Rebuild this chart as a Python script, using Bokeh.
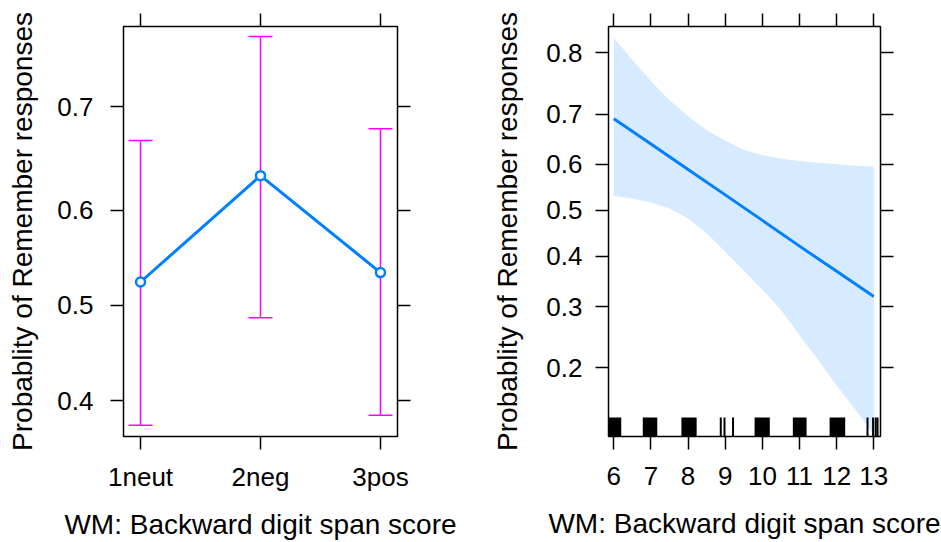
import numpy as np
from bokeh.plotting import figure
from bokeh.models import (Range1d, FixedTicker, LinearAxis, CustomJSTickFormatter,
                          Whisker, TeeHead, ColumnDataSource)
from bokeh.layouts import row
from bokeh.embed import file_html
from bokeh.resources import INLINE

# ---------------- data ----------------
# left panel: condition effect
conditions = ["1neut", "2neg", "3pos"]
cond_fit = [0.525, 0.635, 0.535]
cond_lower = [0.375, 0.487, 0.385]
cond_upper = [0.669, 0.759, 0.680]
left_yticks = [0.4, 0.5, 0.6, 0.7]

# right panel: WM backward digit span effect
wm_span = [6, 7, 8, 9, 10, 11, 12, 13]
wm_fit = [0.691, 0.642, 0.589, 0.534, 0.478, 0.422, 0.369, 0.319]
band_x = [6, 6.5, 7, 7.5, 8, 8.5, 9, 9.5, 10, 10.5, 11, 11.5, 12, 12.5, 13]
band_lower = [0.531, 0.526, 0.517, 0.504, 0.482, 0.450, 0.410, 0.370, 0.332,
              0.294, 0.250, 0.212, 0.176, 0.148, 0.122]
band_upper = [0.820, 0.790, 0.757, 0.725, 0.696, 0.669, 0.649, 0.630, 0.619,
              0.612, 0.607, 0.603, 0.600, 0.597, 0.595]
right_yticks = [0.2, 0.3, 0.4, 0.5, 0.6, 0.7, 0.8]

# rug of observed (jittered) scores
rug_block_lo = [5.84, 6.78, 7.82, 9.79, 10.82, 11.81]
rug_block_hi = [6.20, 7.17, 8.23, 10.20, 11.19, 12.23]
rug_single = [8.88, 8.98, 9.21, 12.83, 12.98, 13.05, 13.10]

x_title = "WM: Backward digit span score"
y_title = "Probablity of Remember responses"

# ---------------- helpers ----------------
def logit(p):
    p = np.asarray(p, dtype=float)
    return np.log(p / (1 - p))

FONT = "Liberation Sans"
BLUE = "#0080ff"
MAGENTA = "#ff00ff"

prob_fmt = CustomJSTickFormatter(code="return (1/(1+Math.exp(-tick))).toFixed(1);")


def style_axis(ax, standoff):
    ax.axis_line_color = None
    ax.major_tick_out = 13
    ax.major_tick_in = 0
    ax.minor_tick_out = 0
    ax.minor_tick_in = 0
    ax.major_tick_line_color = "black"
    ax.major_tick_line_width = 1.5
    ax.major_label_text_font = FONT
    ax.major_label_text_font_size = "26px"
    ax.major_label_text_color = "black"
    ax.major_label_standoff = standoff
    ax.axis_label_text_font = FONT
    ax.axis_label_text_font_size = "28px"
    ax.axis_label_text_font_style = "normal"
    ax.axis_label_text_color = "black"


def blank_axis(ticker):
    ax = LinearAxis(ticker=ticker)
    style_axis(ax, 0)
    ax.major_label_text_font_size = "0px"
    ax.major_label_text_alpha = 0
    return ax


def make_fig(width, bl, br, xr, yr):
    p = figure(width=width, height=542, x_range=xr, y_range=yr,
               output_backend="svg", toolbar_location=None, tools="",
               min_border_left=bl, min_border_right=br,
               min_border_top=26, min_border_bottom=105)
    p.grid.visible = False
    p.outline_line_color = "black"
    p.outline_line_width = 1.5
    p.background_fill_color = "white"
    p.border_fill_color = "white"
    return p


# ---------------- left panel ----------------
p1 = make_fig(470, 123, 73, Range1d(0.858, 3.142), Range1d(-0.559, 1.190))
cx = list(range(1, len(conditions) + 1))
x_ticker = FixedTicker(ticks=cx)
y_ticker1 = FixedTicker(ticks=list(logit(left_yticks)))
p1.xaxis.ticker = x_ticker
p1.xaxis.formatter = CustomJSTickFormatter(args=dict(cats=conditions),
                                           code="return cats[Math.round(tick) - 1] || '';")
p1.yaxis.ticker = y_ticker1
p1.yaxis.formatter = prob_fmt
style_axis(p1.xaxis[0], 12)
style_axis(p1.yaxis[0], 17)
p1.xaxis.axis_label = x_title
p1.yaxis.axis_label = y_title
p1.xaxis.axis_label_standoff = 14
p1.yaxis.axis_label_standoff = 16
p1.add_layout(blank_axis(x_ticker), "above")
p1.add_layout(blank_axis(y_ticker1), "right")

src1 = ColumnDataSource(dict(x=cx, fit=logit(cond_fit),
                             lo=logit(cond_lower), hi=logit(cond_upper)))
p1.add_layout(Whisker(base="x", lower="lo", upper="hi", source=src1,
                      line_color=MAGENTA, line_width=1.5, level="underlay",
                      upper_head=TeeHead(size=24, line_color=MAGENTA, line_width=1.5),
                      lower_head=TeeHead(size=24, line_color=MAGENTA, line_width=1.5)))
p1.line("x", "fit", source=src1, line_color=BLUE, line_width=3)
p1.scatter("x", "fit", source=src1, size=9, line_color=BLUE, line_width=2.5,
           fill_color="white")

# ---------------- right panel ----------------
p2 = make_fig(471, 138, 61, Range1d(5.857, 13.18), Range1d(-1.989, 1.617))
wm_ticker = FixedTicker(ticks=wm_span)
y_ticker2 = FixedTicker(ticks=list(logit(right_yticks)))
p2.xaxis.ticker = wm_ticker
p2.yaxis.ticker = y_ticker2
p2.yaxis.formatter = prob_fmt
style_axis(p2.xaxis[0], 17)
style_axis(p2.yaxis[0], 13)
p2.xaxis.axis_label = x_title
p2.yaxis.axis_label = y_title
p2.xaxis.axis_label_standoff = 20
p2.yaxis.axis_label_standoff = 20
p2.add_layout(blank_axis(wm_ticker), "above")
p2.add_layout(blank_axis(y_ticker2), "right")

p2.varea(x=band_x, y1=logit(band_lower), y2=logit(band_upper),
         fill_color=BLUE, fill_alpha=0.16)
p2.line(wm_span, logit(wm_fit), line_color=BLUE, line_width=3)

y0 = p2.y_range.start
blo = np.array(rug_block_lo)
bhi = np.array(rug_block_hi)
p2.rect(x=(blo + bhi) / 2, y=y0, width=bhi - blo, height=38, height_units="screen",
        fill_color="black", line_color=None)
p2.rect(x=rug_single, y=y0, width=2, width_units="screen", height=38,
        height_units="screen", fill_color="black", line_color=None)

layout = row(p1, p2)
open("out.html", "w").write(file_html(layout, INLINE))
